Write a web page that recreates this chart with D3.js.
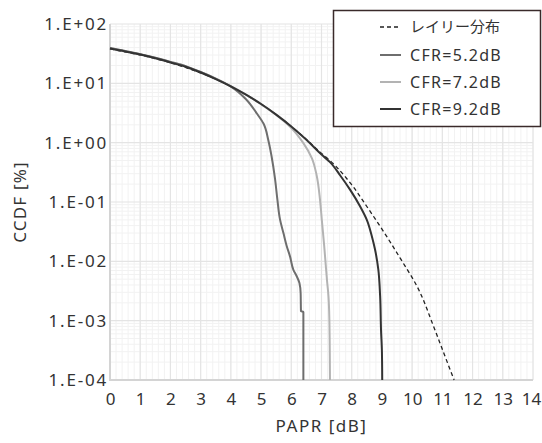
<!DOCTYPE html>
<html>
<head>
<meta charset="utf-8">
<script src="https://cdn.jsdelivr.net/npm/d3@7"></script>
<style>
  body { margin: 0; background: #fff; }
  text { font-family: "Noto Sans", "Noto Sans CJK JP", sans-serif; fill: #333; }
</style>
</head>
<body>
<script>
// values: [PAPR dB, CCDF %]
var rayleigh = [[0,38],[1,30],[2,22.2],[3,15],[4,8.9],[4.5,6.4],[5,4.45],[5.5,2.95],[6,1.88],
  [6.5,1.13],[7,0.66],[7.28,0.5],[7.95,0.21],[8.5,0.084],[8.94,0.039],[9.6,0.0114],[10.16,0.0038],
  [10.71,0.0008],[11.04,0.00029],[11.39,0.0001]];

var cfr52 = [[0,39.5],[0.5,35],[1,31],[1.5,27],[2,23],[2.5,19.5],[3,15.5],[3.5,12],[4,8.8],
  [4.5,5.4],[4.86,3.1],[5.08,2.1],[5.24,1.1],[5.35,0.58],[5.46,0.25],[5.54,0.11],[5.63,0.05],
  [5.74,0.03],[5.85,0.018],[5.96,0.012],[6.07,0.0072],[6.18,0.0056],[6.27,0.0043],[6.31,0.0029],
  [6.32,0.00145],[6.4,0.0014],[6.4,0.0001]];

var cfr72 = [[0,39.5],[0.5,35],[1,31],[1.5,27],[2,23],[2.5,19.5],[3,15.5],[3.5,12],[4,9],
  [4.5,6.45],[5,4.45],[5.5,2.92],[5.96,1.85],[6.4,0.98],[6.68,0.55],[6.84,0.28],[6.95,0.11],
  [7.01,0.05],[7.09,0.018],[7.18,0.0049],[7.23,0.0026],[7.26,0.00105],[7.28,0.0001]];

var cfr92 = [[0,38.5],[0.5,34.5],[1,30.5],[1.5,26.5],[2,22.5],[2.5,19],[3,15.2],[3.5,11.8],[4,8.9],
  [4.5,6.44],[5,4.48],[5.5,2.97],[6,1.88],[6.5,1.12],[7,0.63],[7.28,0.47],[7.62,0.28],[7.95,0.16],
  [8.28,0.084],[8.5,0.05],[8.67,0.026],[8.77,0.016],[8.88,0.0073],[8.94,0.0026],[8.97,0.0007],
  [9,0.0003],[9.01,0.0001]];

var seriesNames = ["レイリー分布", "CFR=5.2dB", "CFR=7.2dB", "CFR=9.2dB"];
var xTicks = d3.range(0, 15, 1);
var yTicks = [1e-4, 1e-3, 1e-2, 1e-1, 1, 10, 100];
var yLabels = ["1.E-04", "1.E-03", "1.E-02", "1.E-01", "1.E+00", "1.E+01", "1.E+02"];

var width = 542, height = 443;
var margin = {top: 24, right: 9, bottom: 63, left: 110};

var svg = d3.select("body").append("svg")
    .attr("width", width)
    .attr("height", height);

var x = d3.scaleLinear().domain([0, 14]).range([margin.left, width - margin.right]);
var y = d3.scaleLog().domain([1e-4, 1e2]).range([height - margin.bottom, margin.top]);

var g = svg.append("g");

// minor grid
var xMinor = d3.range(0, 14.001, 0.2);
g.selectAll(".xminor").data(xMinor).enter().append("line")
    .attr("x1", function(d) { return x(d) }).attr("x2", function(d) { return x(d) })
    .attr("y1", y(1e-4)).attr("y2", y(1e2))
    .attr("stroke", "#f2f2f2").attr("stroke-width", 1);

var yMinor = [];
for (var e = -4; e < 2; e++) for (var m = 2; m < 10; m++) yMinor.push(m * Math.pow(10, e));
g.selectAll(".yminor").data(yMinor).enter().append("line")
    .attr("x1", x(0)).attr("x2", x(14))
    .attr("y1", function(d) { return y(d) }).attr("y2", function(d) { return y(d) })
    .attr("stroke", "#f2f2f2").attr("stroke-width", 1);

// major grid
g.selectAll(".xmajor").data(xTicks).enter().append("line")
    .attr("x1", function(d) { return x(d) }).attr("x2", function(d) { return x(d) })
    .attr("y1", y(1e-4)).attr("y2", y(1e2))
    .attr("stroke", "#e4e4e4").attr("stroke-width", 1.2);
g.selectAll(".ymajor").data(yTicks).enter().append("line")
    .attr("x1", x(0)).attr("x2", x(14))
    .attr("y1", function(d) { return y(d) }).attr("y2", function(d) { return y(d) })
    .attr("stroke", "#e4e4e4").attr("stroke-width", 1.2);

// axis lines
svg.append("line").attr("x1", x(0)).attr("x2", x(0)).attr("y1", y(1e-4) + 1).attr("y2", y(1e2))
    .attr("stroke", "#d4d4d4").attr("stroke-width", 2);
svg.append("line").attr("x1", x(0)).attr("x2", x(14)).attr("y1", y(1e-4)).attr("y2", y(1e-4))
    .attr("stroke", "#d4d4d4").attr("stroke-width", 2);

// tick labels
svg.append("g")
    .attr("transform", "translate(0," + (height - margin.bottom) + ")")
    .call(d3.axisBottom(x).tickValues(xTicks).tickSize(0).tickPadding(13).tickFormat(d3.format("d")))
    .call(function(a) { a.select(".domain").remove() })
    .selectAll("text").style("font-size", "17px").attr("fill", "#333")
    .attr("dx", function(d) { return d == 14 ? "-2px" : 0 });

svg.append("g")
    .attr("transform", "translate(" + (margin.left + 1) + ",0)")
    .call(d3.axisLeft(y).tickValues(yTicks).tickSize(0).tickPadding(3)
        .tickFormat(function(d, i) { return yLabels[i] }))
    .call(function(a) { a.select(".domain").remove() })
    .selectAll("text").style("font-size", "17px").style("letter-spacing", "1.8px").attr("fill", "#333");

// axis titles
svg.append("text")
    .attr("x", (x(0) + x(14)) / 2).attr("y", 432)
    .attr("text-anchor", "middle").style("font-size", "17px").style("letter-spacing", "1.5px")
    .text("PAPR [dB]");
svg.append("text")
    .attr("transform", "translate(26," + ((y(1e2) + y(1e-4)) / 2) + ") rotate(-90)")
    .attr("text-anchor", "middle").style("font-size", "17px").style("letter-spacing", "1.2px")
    .text("CCDF [%]");

// curves
var line = d3.line()
    .x(function(d) { return x(d[0]) })
    .y(function(d) { return y(d[1]) })
    .curve(d3.curveMonotoneY);

var styles = [
  {data: rayleigh, color: "#222", width: 1.3, dash: "4,3"},
  {data: cfr72, color: "#b3b3b3", width: 2, dash: null},
  {data: cfr52, color: "#6e6e6e", width: 2, dash: null},
  {data: cfr92, color: "#333", width: 2, dash: null}
];

styles.forEach(function(s) {
  svg.append("path")
    .datum(s.data)
    .attr("fill", "none")
    .attr("stroke", s.color)
    .attr("stroke-width", s.width)
    .attr("stroke-dasharray", s.dash)
    .attr("stroke-linejoin", "round")
    .attr("d", line);
});

// legend
var legend = svg.append("g");
legend.append("rect")
    .attr("x", 333.5).attr("y", 10.5).attr("width", 207).attr("height", 116)
    .attr("fill", "#fff").attr("stroke", "#3a2a2a").attr("stroke-width", 1.5);

var legendStyles = [
  {color: "#222", width: 1.3, dash: "4,3"},
  {color: "#6e6e6e", width: 2, dash: null},
  {color: "#b3b3b3", width: 2, dash: null},
  {color: "#333", width: 2, dash: null}
];
var rowY = [27, 55, 82, 109];

seriesNames.forEach(function(name, i) {
  legend.append("line")
    .attr("x1", 380).attr("x2", 401)
    .attr("y1", rowY[i]).attr("y2", rowY[i])
    .attr("stroke", legendStyles[i].color)
    .attr("stroke-width", legendStyles[i].width)
    .attr("stroke-dasharray", legendStyles[i].dash);
  legend.append("text")
    .attr("x", 410).attr("y", rowY[i]).attr("dy", "0.35em")
    .style("font-size", i == 0 ? "15px" : "16px")
    .style("letter-spacing", i == 0 ? "0px" : "1.3px")
    .text(name);
});
</script>
</body>
</html>
